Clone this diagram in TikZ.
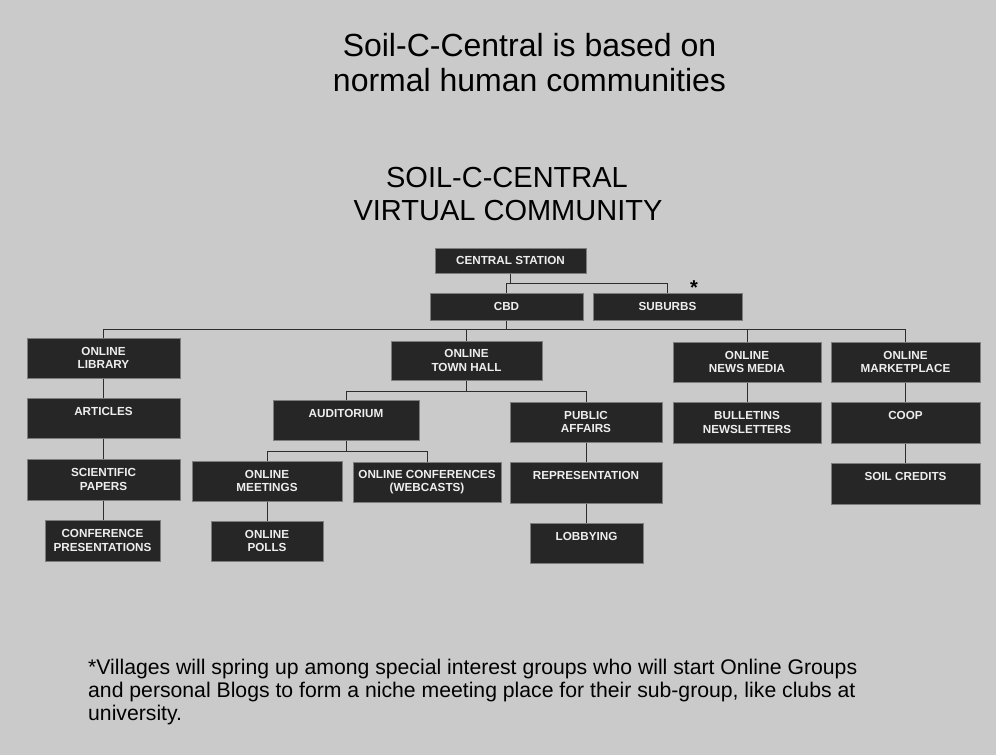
\documentclass[tikz,border=0pt]{standalone}
\usepackage{fontspec}
\setmainfont{Liberation Sans}
\definecolor{bg}{RGB}{202,202,202}
\definecolor{boxfill}{RGB}{38,38,38}
\definecolor{boxline}{RGB}{125,125,125}
\definecolor{wire}{RGB}{45,45,45}
\definecolor{boxtext}{RGB}{238,238,238}
\begin{document}
\begin{tikzpicture}[x=1pt,y=-1pt,
  box/.style 2 args={draw=boxline, line width=1pt, fill=boxfill, text=boxtext,
    font=\bfseries\fontsize{11.7}{13.5}\selectfont, align=center, inner sep=0pt,
    minimum width=#1, minimum height=#2},
  wire/.style={draw=wire, line width=0.9pt},
  title/.style={anchor=base, inner sep=0pt, font=\fontsize{32}{38}\selectfont},
  subtitle/.style={anchor=base, inner sep=0pt, font=\fontsize{29}{33}\selectfont},
  note/.style={anchor=base west, inner sep=0pt, font=\fontsize{21.2}{23}\selectfont}]
\useasboundingbox (0,0) rectangle (996,755);
\fill[bg] (0,0) rectangle (996,755);

% titles
\node[title] (t1) at (529.5,56) {Soil-C-Central is based on};
\node[title] (t2) at (529.5,91) {normal human communities};
\node[subtitle] (t3) at (507,187) {SOIL-C-CENTRAL};
\node[subtitle] (t4) at (508,220) {VIRTUAL COMMUNITY};

% boxes
\node[box={151pt}{25pt}] (cs) at (510.5,260.5) {CENTRAL STATION};
\node[box={153pt}{27pt}] (cbd) at (506.5,306.5) {CBD};
\node[box={149pt}{27pt}] (sub) at (667.5,306.5) {SUBURBS};
\node[anchor=base, inner sep=0pt,
      font=\bfseries\fontsize{20}{20}\selectfont] (star) at (694,294.5) {*};

\node[box={153pt}{40pt}] (lib) at (103.5,358) {ONLINE\\LIBRARY};
\node[box={153pt}{40pt}] (art) at (103.5,418) {ARTICLES\\\mbox{}};
\node[box={153pt}{41pt}] (sci) at (103.5,479.5) {SCIENTIFIC\\PAPERS};
\node[box={115pt}{41pt}] (conf) at (102.5,540.5) {CONFERENCE\\PRESENTATIONS};

\node[box={151pt}{39pt}] (th) at (466.5,360.5) {ONLINE\\TOWN HALL};
\node[box={146pt}{40pt}] (aud) at (346,420) {AUDITORIUM\\\mbox{}};
\node[box={152pt}{40pt}] (pa) at (586,422) {PUBLIC\\AFFAIRS};
\node[box={150pt}{40pt}] (om) at (267,481) {ONLINE\\MEETINGS};
\node[box={148pt}{40pt}] (oc) at (427,482) {ONLINE CONFERENCES\\(WEBCASTS)};
\node[box={152pt}{41pt}] (rep) at (586,482.5) {REPRESENTATION\\\mbox{}};
\node[box={112pt}{40pt}] (polls) at (267,541) {ONLINE\\POLLS};
\node[box={113pt}{40pt}] (lob) at (586.5,543) {LOBBYING\\\mbox{}};

\node[box={148pt}{40pt}] (nm) at (747,362) {ONLINE\\NEWS MEDIA};
\node[box={148pt}{41pt}] (bul) at (747,422.5) {BULLETINS\\NEWSLETTERS};
\node[box={149pt}{40pt}] (mkt) at (905.5,362) {ONLINE\\MARKETPLACE};
\node[box={149pt}{41pt}] (coop) at (905.5,422.5) {COOP\\\mbox{}};
\node[box={149pt}{41pt}] (soil) at (905.5,483.5) {SOIL CREDITS\\\mbox{}};

% junction levels
\coordinate (j0) at (0,283);
\coordinate (j1) at (0,329);
\coordinate (j2) at (0,391);
\coordinate (j3) at (0,451);

% connectors
\draw[wire] (cs.south) -- (cs.south|-j0);
\draw[wire] (cbd.north) |- (sub.north|-j0) -- (sub.north);
\draw[wire] (cbd.south) -- (cbd.south|-j1);
\draw[wire] (lib.north) |- (mkt.north|-j1) -- (mkt.north);
\draw[wire] (th.north) -- (th.north|-j1);
\draw[wire] (nm.north) -- (nm.north|-j1);

\draw[wire] (lib.south) -- (art.north);
\draw[wire] (art.south) -- (sci.north);
\draw[wire] (sci.south) -- (sci.south|-conf.north);

\draw[wire] (th.south) -- (th.south|-j2);
\draw[wire] (aud.north) |- (pa.north|-j2) -- (pa.north);
\draw[wire] (aud.south) -- (aud.south|-j3);
\draw[wire] (om.north) |- (oc.north|-j3) -- (oc.north);
\draw[wire] (om.south) -- (polls.north);
\draw[wire] (pa.south) -- (rep.north);
\draw[wire] (rep.south) -- (rep.south|-lob.north);

\draw[wire] (nm.south) -- (bul.north);
\draw[wire] (mkt.south) -- (coop.north);
\draw[wire] (coop.south) -- (soil.north);

% footnote
\node[note] (f1) at (88,674) {*Villages will spring up among special interest groups who will start Online Groups};
\node[note] (f2) at (88,697) {and personal Blogs to form a niche meeting place for their sub-group, like clubs at};
\node[note] (f3) at (88,720) {university.};
\end{tikzpicture}
\end{document}
